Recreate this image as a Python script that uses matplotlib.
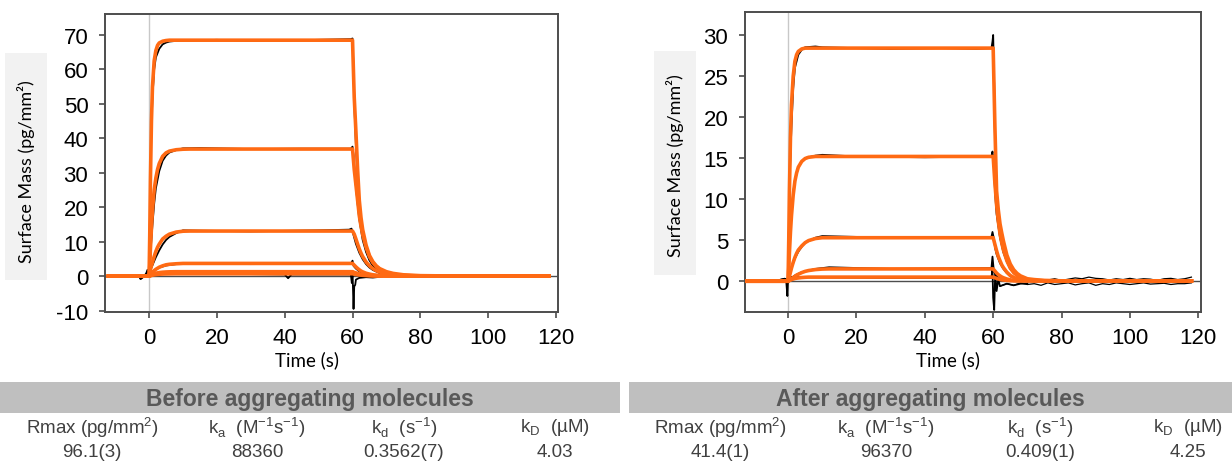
import matplotlib
matplotlib.use("Agg")
import matplotlib.pyplot as plt
from matplotlib.patches import Rectangle

plt.rcParams["axes.unicode_minus"] = False

# ---------------- data ----------------
T_FIT = [-12, 0, 0.2, 0.4, 0.7, 1.0, 1.5, 2.0, 2.5, 3.0, 4.0, 5.0, 6.0, 8.0, 10.0, 12.0,
         20.0, 40.0, 60.0, 60.5, 61.0, 61.5, 62.0, 62.5, 63.0, 64.0, 65.0, 66.0, 67.0,
         68.0, 70.0, 72.0, 75.0, 80.0, 90.0, 118.0]

# left panel fitted curves (before aggregating molecules)
L_FIT_1 = [0, 0, 12, 28, 45, 55, 62.5, 65.5, 67, 67.7, 68.2, 68.4, 68.5, 68.5, 68.5, 68.5,
           68.5, 68.5, 68.5, 52, 42, 31, 22, 17, 13.5, 9, 6, 4.2, 3.0, 2.2, 1.3, 0.8, 0.4, 0.15, 0.05, 0.05]
L_FIT_2 = [0, 0, 3, 8, 14, 19, 25, 28.5, 31, 32.7, 34.8, 35.8, 36.3, 36.7, 36.85, 36.9,
           36.9, 36.9, 36.9, 31, 26.5, 22, 17.5, 14.5, 12, 8.3, 5.6, 3.9, 2.8, 2.0, 1.05, 0.55, 0.2, 0.05, 0.05, 0.05]
L_FIT_3 = [0, 0, 1.0, 2.0, 3.0, 4.0, 5.7, 7.2, 8.4, 9.3, 10.8, 11.6, 12.2, 12.8, 13.05, 13.1,
           13.1, 13.1, 13.1, 12.2, 10.8, 9.3, 7.9, 6.7, 5.7, 4.1, 3.0, 2.2, 1.6, 1.2, 0.6, 0.3, 0.15, 0.05, 0.05, 0.05]
L_FIT_4 = [0, 0, 0.2, 0.4, 0.8, 1.1, 1.6, 2.0, 2.3, 2.6, 3.0, 3.3, 3.45, 3.6, 3.7, 3.7,
           3.7, 3.7, 3.7, 3.2, 2.7, 2.25, 1.85, 1.5, 1.25, 0.85, 0.6, 0.4, 0.3, 0.2, 0.1, 0.05, 0.05, 0.05, 0.05, 0.05]
L_FIT_5 = [0, 0, 0.1, 0.2, 0.35, 0.5, 0.7, 0.85, 0.95, 1.05, 1.15, 1.22, 1.26, 1.3, 1.3, 1.3,
           1.3, 1.3, 1.3, 1.1, 0.95, 0.8, 0.65, 0.55, 0.45, 0.3, 0.2, 0.14, 0.1, 0.07, 0.05, 0.05, 0.05, 0.05, 0.05, 0.05]
L_FIT_6 = [0, 0, 0.05, 0.1, 0.2, 0.28, 0.38, 0.46, 0.52, 0.56, 0.62, 0.65, 0.67, 0.7, 0.7, 0.7,
           0.7, 0.7, 0.7, 0.6, 0.5, 0.42, 0.35, 0.3, 0.25, 0.17, 0.12, 0.08, 0.06, 0.05, 0.05, 0.05, 0.05, 0.05, 0.05, 0.05]

# left panel measured traces
L_DAT_T1 = [-12, -3, -2.5, -2, -1, 0, 0.3, 0.6, 1, 1.5, 2, 3, 4, 5, 6, 8, 20, 30, 45, 59.5, 60, 60.3,
            60.6, 61, 61.5, 62, 63, 64, 65, 66, 68, 70, 72, 75, 80, 100, 118]
L_DAT_1 = [0, 0, -0.8, -0.5, 0.6, 1.5, 20, 40, 52, 60, 63.5, 66, 67.3, 67.8, 68.1, 68.3, 68.6, 68.3, 68.5,
           68.8, 69.0, 60, 48, 38, 28, 20, 12, 7.5, 4.8, 3.1, 1.5, 0.8, 0.5, 0.35, 0.3, 0.3, 0.3]
L_DAT_T2 = [0, 0.5, 1, 1.5, 2, 3, 4, 5, 6, 8, 10, 15, 30, 45, 59.5, 60, 60.3, 60.6, 61, 61.5, 62, 63,
            64, 65, 66, 68, 70, 72, 75, 80, 118]
L_DAT_2 = [0.5, 8, 15, 21, 25.5, 30.5, 33.5, 35, 35.9, 36.6, 37.1, 37.2, 36.9, 37.0, 37.0, 37.6, 35, 31,
           26, 21, 16.5, 10.5, 7, 4.6, 3.1, 1.5, 0.8, 0.5, 0.35, 0.3, 0.3]
L_DAT_T3 = [0, 0.5, 1, 2, 3, 4, 5, 6, 8, 10, 15, 30, 50, 59, 59.7, 60, 60.5, 61, 62, 63, 64, 65, 66,
            68, 70, 72, 80, 118]
L_DAT_3 = [0.5, 2, 3.2, 5.5, 7.5, 9.2, 10.5, 11.4, 12.5, 13.3, 13.2, 13.0, 13.3, 13.5, 13.8, 13.0, 11.2,
           9.4, 6.8, 4.9, 3.5, 2.5, 1.8, 0.9, 0.5, 0.3, 0.3, 0.3]
L_DAT_T4 = [0, 0.5, 1, 2, 3, 5, 8, 10, 30, 59.5, 60, 60.3, 61, 62, 63, 65, 68, 118]
L_DAT_4 = [0.3, 0.8, 1.3, 2.0, 2.5, 3.1, 3.5, 3.6, 3.5, 3.6, 4.5, 3.0, 2.2, 1.4, 0.9, 0.4, 0.1, 0.1]
L_DAT_T5 = [-12, -3, -2.5, -2, -1, -0.5, 0, 1, 10, 40, 41, 42, 59.5, 59.8, 60.0, 60.3, 60.5, 60.8, 61,
            62, 64, 66, 68, 70, 118]
L_DAT_5 = [0, 0, -0.8, -0.2, 0.3, 1.8, 0.5, 1.0, 0.8, 0.5, -0.6, 0.5, 0.5, -2, 1.5, -9.5, -3, -2.5, -1.0,
           -0.5, -0.3, -0.4, -0.2, 0.2, 0.2]

# right panel fitted curves (after aggregating molecules)
R_FIT_1 = [0, 0, 5, 11, 17.5, 21.5, 25, 26.8, 27.6, 28.0, 28.3, 28.4, 28.4, 28.4, 28.4, 28.4,
           28.4, 28.4, 28.4, 19, 11, 8.7, 7, 5.9, 4.9, 3.2, 2.1, 1.4, 0.95, 0.65, 0.3, 0.2, 0.1, 0.05, 0.05, 0.05]
R_FIT_2 = [0, 0, 1.5, 3.5, 6, 8, 10.5, 12.2, 13.2, 13.9, 14.6, 14.95, 15.1, 15.2, 15.2, 15.2,
           15.2, 15.2, 15.2, 12, 9.3, 7.3, 5.8, 4.7, 3.8, 2.5, 1.6, 1.05, 0.7, 0.45, 0.2, 0.1, 0.05, 0.05, 0.05, 0.05]
R_FIT_3 = [0, 0, 0.3, 0.6, 1.1, 1.6, 2.3, 2.9, 3.4, 3.8, 4.3, 4.7, 4.95, 5.2, 5.3, 5.3,
           5.3, 5.3, 5.3, 4.5, 3.7, 3.0, 2.5, 2.0, 1.65, 1.1, 0.7, 0.47, 0.3, 0.2, 0.1, 0.05, 0.05, 0.05, 0.05, 0.05]
R_FIT_4 = [0, 0, 0.05, 0.1, 0.2, 0.3, 0.45, 0.6, 0.75, 0.85, 1.05, 1.2, 1.3, 1.42, 1.48, 1.5,
           1.5, 1.5, 1.5, 1.25, 1.0, 0.8, 0.65, 0.52, 0.42, 0.27, 0.17, 0.1, 0.07, 0.05, 0.05, 0.05, 0.05, 0.05, 0.05, 0.05]
R_FIT_5 = [0, 0, 0.05, 0.1, 0.15, 0.2, 0.27, 0.33, 0.37, 0.4, 0.45, 0.48, 0.5, 0.5, 0.5, 0.5,
           0.5, 0.5, 0.5, 0.42, 0.35, 0.28, 0.22, 0.18, 0.15, 0.1, 0.07, 0.05, 0.05, 0.05, 0.05, 0.05, 0.05, 0.05, 0.05, 0.05]

# right panel measured traces
R_DAT_T1 = [-12, -3, -1, 0, 0.3, 0.6, 1, 1.5, 2, 3, 4, 5, 8, 10, 20, 30, 45, 55, 59.5, 59.8, 60,
            60.3, 60.6, 61, 62, 63, 64, 65, 66, 68, 70]
R_DAT_1 = [0, 0.1, 0.3, 0.2, 8, 14, 19, 23.5, 26, 27.6, 28.2, 28.5, 28.6, 28.5, 28.4, 28.3, 28.4, 28.3,
           28.4, 29.2, 30.0, 24, 15, 11, 6.5, 4.6, 3.0, 1.9, 1.2, 0.5, 0.1]
R_DAT_T2 = [0, 0.5, 1, 1.5, 2, 3, 4, 5, 8, 10, 20, 40, 59.5, 59.8, 60.2, 60.6, 61, 62, 63, 64, 65,
            66, 68, 70]
R_DAT_2 = [0.2, 5, 8.5, 10.8, 12.3, 13.9, 14.6, 15.0, 15.3, 15.4, 15.2, 15.1, 15.2, 15.8, 14, 10.5, 8.2,
           5.3, 3.5, 2.4, 1.5, 1.0, 0.35, 0.1]
R_DAT_T3 = [0, 0.5, 1, 2, 3, 4, 5, 8, 10, 20, 40, 59.5, 59.8, 60.2, 60.6, 61, 62, 63, 64, 65, 67, 70]
R_DAT_3 = [0.2, 1.0, 1.6, 2.8, 3.6, 4.2, 4.7, 5.3, 5.5, 5.4, 5.3, 5.4, 6.0, 5.2, 4.0, 3.3, 2.2, 1.5,
           1.0, 0.6, 0.25, 0.0]
R_DAT_T4 = [0, 1, 2, 4, 8, 12, 30, 59.5, 59.8, 60.2, 61, 62, 64, 70]
R_DAT_4 = [0.1, 0.4, 0.7, 1.1, 1.5, 1.7, 1.5, 1.6, 3.0, 1.2, 0.6, 0.3, 0.1, 0.0]
R_DAT_T5 = [-12, -3, -1, -0.5, -0.2, 0, 1, 30, 59.5, 59.8, 60.0, 60.3, 60.6, 61, 61.5, 62, 64, 66,
            68, 70]
R_DAT_5 = [0, 0.1, 0.3, -0.2, -1.8, 0.3, 0.5, 0.4, 0.4, 1.5, -2, -3.5, 1, -1.2, 0.2, -0.6, -0.3, -0.5,
           -0.3, -0.3]
R_TAIL_T = [62, 64, 66, 68, 70, 72, 74, 76, 78, 80, 82, 84, 86, 88, 90, 92, 94, 96, 98, 100, 102,
            104, 106, 108, 110, 112, 114, 116, 118]
R_TAIL_A = [0.3, 0.1, 0.2, 0.0, 0.1, 0.2, 0.0, 0.15, 0.3, 0.1, 0.25, 0.4, 0.3, 0.5, 0.35, 0.3, 0.15,
            0.3, 0.2, 0.35, 0.2, 0.3, 0.25, 0.1, 0.3, 0.35, 0.2, 0.3, 0.5]
R_TAIL_B = [-0.6, -0.3, -0.5, -0.2, -0.4, -0.3, -0.5, -0.2, -0.4, -0.3, -0.2, -0.45, -0.3, -0.2,
            -0.5, -0.3, -0.4, -0.2, -0.3, -0.4, -0.3, -0.2, -0.35, -0.3, -0.25, -0.4, -0.3, -0.3, -0.2]

X_TICKS = [0, 20, 40, 60, 80, 100, 120]
L_Y_TICKS = [-10, 0, 10, 20, 30, 40, 50, 60, 70]
R_Y_TICKS = [0, 5, 10, 15, 20, 25, 30]

TABLE_HEAD = ["Rmax (pg/mm$^{\\mathregular{2}}$)",
              "k$_{\\mathregular{a}}$  (M$^{\\mathregular{-1}}$s$^{\\mathregular{-1}}$)",
              "k$_{\\mathregular{d}}$  (s$^{\\mathregular{-1}}$)",
              "k$_{\\mathregular{D}}$  (\u00b5M)"]
LEFT_TITLE = "Before aggregating molecules"
RIGHT_TITLE = "After aggregating molecules"
LEFT_VALUES = ["96.1(3)", "88360", "0.3562(7)", "4.03"]
RIGHT_VALUES = ["41.4(1)", "96370", "0.409(1)", "4.25"]

# ---------------- figure ----------------
W, H = 1232, 464
fig = plt.figure(figsize=(W / 100, H / 100), dpi=100)
plt.rcParams["mathtext.fontset"] = "custom"
plt.rcParams["mathtext.rm"] = "Liberation Sans"

ORANGE = "#ff6a13"
FRAME = "#4d4d4d"

def fx(px):
    return px / W

def fy(py):
    return 1 - py / H

def make_axes(x0, x1, y0, y1):
    return fig.add_axes([fx(x0), fy(y1), fx(x1 - x0), (y1 - y0) / H])

axL = make_axes(105, 558, 15, 313)
axR = make_axes(745, 1201, 13, 313)

def style(ax, xlim, ylim, yticks):
    ax.set_xlim(*xlim)
    ax.set_ylim(*ylim)
    ax.set_xticks(X_TICKS)
    ax.set_yticks(yticks)
    for s in ax.spines.values():
        s.set_color(FRAME)
        s.set_linewidth(1.4)
    ax.tick_params(axis="both", direction="out", length=4, width=1.2, color=FRAME,
                   labelsize=16, labelcolor="black")
    ax.tick_params(axis="x", pad=7)
    ax.tick_params(axis="y", pad=8)
    for lab in ax.get_xticklabels() + ax.get_yticklabels():
        lab.set_fontfamily("Liberation Sans")
    ax.axvline(0, color="#c8c8c8", lw=1.0, zorder=1)

style(axL, (-13, 120.6), (-10.4, 76.1), L_Y_TICKS)
style(axR, (-12.6, 120.8), (-3.75, 32.8), R_Y_TICKS)

# black measured traces
BL = dict(color="black", lw=1.3, zorder=2)
for t, y in [(L_DAT_T1, L_DAT_1), (L_DAT_T2, L_DAT_2), (L_DAT_T3, L_DAT_3),
             (L_DAT_T4, L_DAT_4), (L_DAT_T5, L_DAT_5)]:
    axL.plot(t, y, **BL)
for t, y in [(R_DAT_T1, R_DAT_1), (R_DAT_T2, R_DAT_2), (R_DAT_T3, R_DAT_3),
             (R_DAT_T4, R_DAT_4), (R_DAT_T5, R_DAT_5)]:
    axR.plot(t, y, **BL)
for t, y in [(R_TAIL_T, R_TAIL_A), (R_TAIL_T, R_TAIL_B)]:
    axR.plot(t, y, color="black", lw=0.9, zorder=2)
axL.axhline(0, color=FRAME, lw=1.0, zorder=1.5)
axR.axhline(0, color=FRAME, lw=1.0, zorder=1.5)

# orange fitted curves
OR = dict(color=ORANGE, lw=2.6, zorder=3, solid_joinstyle="round")
for y in [L_FIT_1, L_FIT_2, L_FIT_3, L_FIT_4, L_FIT_5, L_FIT_6]:
    axL.plot(T_FIT, y, **OR)
for y in [R_FIT_1, R_FIT_2, R_FIT_3, R_FIT_4, R_FIT_5]:
    axR.plot(T_FIT, y, **OR)

# y-label boxes
for (x0, x1, y0, y1) in [(5, 47, 54, 281), (654, 696, 52, 276)]:
    fig.patches.append(Rectangle((fx(x0), fy(y1)), fx(x1 - x0), (y1 - y0) / H,
                                 transform=fig.transFigure, facecolor="#f2f2f2",
                                 edgecolor="none", zorder=0))
    fig.text(fx((x0 + x1) / 2), fy(172 if x0 < 100 else 166), "Surface Mass (pg/mm\u00b2)",
             rotation=90, ha="center", va="center", fontsize=13, family="Lato", color="black")

# x labels
fig.text(fx(307), fy(360), "Time (s)", ha="center", va="center", fontsize=13.5, family="Lato")
fig.text(fx(948), fy(360), "Time (s)", ha="center", va="center", fontsize=13.5, family="Lato")

# table
BAR = "#bfbfbf"
for (x0, x1, title) in [(0, 620, LEFT_TITLE), (629, 1232, RIGHT_TITLE)]:
    fig.patches.append(Rectangle((fx(x0), fy(414)), fx(x1 - x0), 31 / H,
                                 transform=fig.transFigure, facecolor=BAR,
                                 edgecolor="none", zorder=0))
    fig.text(fx((x0 + x1) / 2), fy(400), title, ha="center", va="center", fontsize=16.5,
             fontweight="bold", family="Liberation Sans", color="#595959")

L_COLS = [92, 257, 404, 555]
R_COLS = [720, 886, 1040, 1188]
for cols, vals in [(L_COLS, LEFT_VALUES), (R_COLS, RIGHT_VALUES)]:
    for cx, head, val in zip(cols, TABLE_HEAD, vals):
        fig.text(fx(cx), fy(428), head, ha="center", va="center", fontsize=13.5,
                 family="Liberation Sans", color="#404040")
        fig.text(fx(cx), fy(453), val, ha="center", va="center", fontsize=13.5,
                 family="Liberation Sans", color="#404040")

fig.savefig("out.png", dpi=100)
